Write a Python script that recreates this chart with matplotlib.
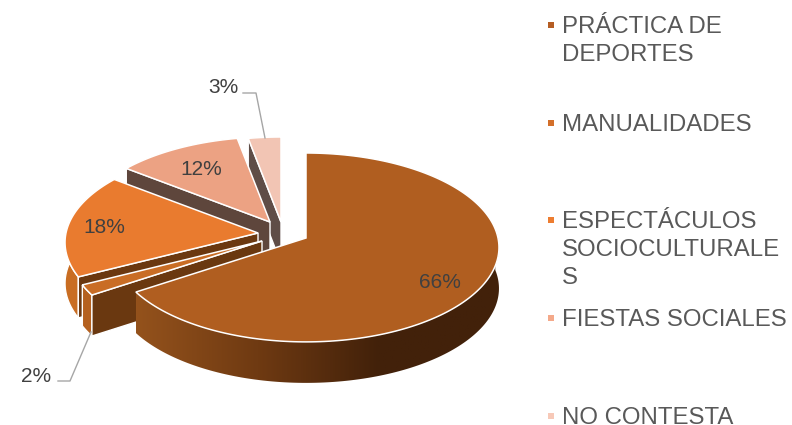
import numpy as np
import matplotlib
matplotlib.use('Agg')
import matplotlib.pyplot as plt
from matplotlib.colors import LinearSegmentedColormap
from matplotlib.patches import Polygon

categories = ['PRÁCTICA DE\nDEPORTES', 'MANUALIDADES', 'ESPECTÁCULOS\nSOCIOCULTURALE\nS', 'FIESTAS SOCIALES', 'NO CONTESTA']
values = [65.8, 1.8, 17.8, 11.6, 3.0]

legend_colors = ['#b55d23', '#d36f2a', '#ed7d31', '#f4a98a', '#f7c9b8']
top_colors = ['#b05e20', '#c96d25', '#e97b2f', '#eca283', '#f2c5b4']
side_colors = ['#8a4f1c', '#b5611f', '#c96d22', '#c98a70', '#d8a898']
face_colors = ['#6b3810', '#6a3810', '#6b3810', '#5e463c', '#5f4d47']
# apex of every exploded slice, in pixels
apex_x = [306, 262, 258, 270, 281]
apex_y = [238, 241, 233, 222, 222]

RX, RY, K, DEPTH = 192, 93.5, 0.1, 41

plt.rcParams['font.family'] = ['Liberation Sans', 'DejaVu Sans']
fig = plt.figure(figsize=(7.92, 4.25), dpi=100)
ax = fig.add_axes([0, 0, 1, 1])
ax.axis('off')


def rim(theta):
    # ellipse with a little perspective, theta is clockwise from the top
    c, s = np.sin(theta), np.cos(theta)
    return RX * c / (1 + K * s), -RY * s / (1 + K * s)


fracs = np.array(values) / sum(values)
ends = np.cumsum(fracs) * 2 * np.pi
starts = ends - fracs * 2 * np.pi

# paint from the back to the front, big slice goes last
for i in [4, 3, 2, 1, 0]:
    t = np.linspace(starts[i], ends[i], 200)
    dx, dy = rim(t)
    xs = apex_x[i] + dx
    ys = apex_y[i] + dy
    z = 10 - i

    if i == 0:
        # shaded outer wall, darker to the right
        front = np.cos(t) < 0.1
        wx = xs[front]
        wy = ys[front]
        wall = Polygon(np.c_[np.r_[wx, wx[::-1]], np.r_[wy, wy[::-1] + DEPTH]],
                       closed=True, transform=ax.transData, fc='none', ec='none')
        ax.add_patch(wall)
        shade = LinearSegmentedColormap.from_list('wall', ['#94521c', '#6f3a12', '#42210a', '#42210a'])
        img = ax.imshow(np.linspace(0, 1, 256)[None, :], cmap=shade, aspect='auto',
                        extent=(wx.min(), wx.max(), wy.max() + DEPTH, wy.min()), zorder=z)
        img.set_clip_path(wall)
    else:
        ax.fill(np.r_[xs, xs[::-1]], np.r_[ys, ys[::-1] + DEPTH], facecolor=side_colors[i],
                edgecolor='white', lw=1, zorder=z)
        # cut face on the leading edge
        ax.fill([apex_x[i], xs[0], xs[0], apex_x[i]],
                [apex_y[i], ys[0], ys[0] + DEPTH, apex_y[i] + DEPTH],
                facecolor=face_colors[i], edgecolor='white', lw=1, zorder=z)

    ax.fill(np.r_[apex_x[i], xs], np.r_[apex_y[i], ys], facecolor=top_colors[i],
            edgecolor='white', lw=1.1, zorder=z)

# data labels
pct = [f'{round(v)}%' for v in values]
label_x = [440, 36, 104, 201, 223]
label_y = [282.5, 376, 227, 169, 87]
for p, x, y in zip(pct, label_x, label_y):
    ax.text(x, y, p, fontsize=15, color='#404040', ha='center', va='center', zorder=20)

ax.plot([243, 256, 265], [93, 93, 138], color='#a6a6a6', lw=1, zorder=20)
ax.plot([58, 70, 91], [381, 381, 332], color='#a6a6a6', lw=1, zorder=20)

# legend down the right side
for i, name in enumerate(categories):
    y0 = 33 + i * 97.7
    ax.plot([550.5], [y0 - 8], marker='s', ms=5, color=legend_colors[i], mew=0, zorder=20)
    for n, line in enumerate(name.split('\n')):
        ax.text(562, y0 + n * 28, line, fontsize=17.3, color='#595959', va='baseline', ha='left', zorder=20)

ax.set_xlim(0, 792)
ax.set_ylim(425, 0)
fig.savefig('out.png', dpi=100)
